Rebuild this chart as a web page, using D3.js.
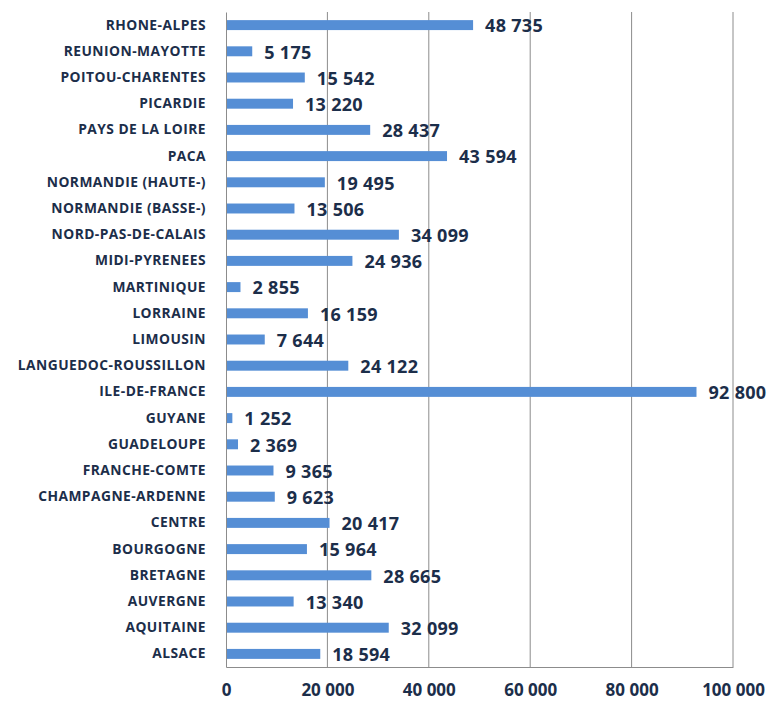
<!DOCTYPE html>
<html>
<head>
<meta charset="utf-8">
<script src="https://cdn.jsdelivr.net/npm/d3@7"></script>
<style>
  body { margin: 0; background: #fff; }
  svg { display: block; }
  text { font-family: "Open Sans", Lato, sans-serif; font-weight: bold; fill: #1c2e4a; }
</style>
</head>
<body>
<div id="chart-area"></div>
<script>
// Regions, top to bottom as drawn
const regions = [
    "RHONE-ALPES", "REUNION-MAYOTTE", "POITOU-CHARENTES", "PICARDIE", "PAYS DE LA LOIRE",
    "PACA", "NORMANDIE (HAUTE-)", "NORMANDIE (BASSE-)", "NORD-PAS-DE-CALAIS", "MIDI-PYRENEES",
    "MARTINIQUE", "LORRAINE", "LIMOUSIN", "LANGUEDOC-ROUSSILLON", "ILE-DE-FRANCE",
    "GUYANE", "GUADELOUPE", "FRANCHE-COMTE", "CHAMPAGNE-ARDENNE", "CENTRE",
    "BOURGOGNE", "BRETAGNE", "AUVERGNE", "AQUITAINE", "ALSACE"
];
const values = [
    48735, 5175, 15542, 13220, 28437,
    43594, 19495, 13506, 34099, 24936,
    2855, 16159, 7644, 24122, 92800,
    1252, 2369, 9365, 9623, 20417,
    15964, 28665, 13340, 32099, 18594
];
const xTicks = [0, 20000, 40000, 60000, 80000, 100000];

const data = regions.map((r, i) => ({ region: r, value: values[i] }));

const margin = { left: 226, right: 38, top: 12, bottom: 34 };
const width = 771 - margin.left - margin.right;
const height = 701 - margin.top - margin.bottom;

const fmt = v => d3.format(",")(v).replace(/,/g, " ");

const svg = d3.select("#chart-area")
    .append("svg")
    .attr("width", 771)
    .attr("height", 701)
    .append("g")
    .attr("transform", `translate(${margin.left}, ${margin.top})`);

const xScale = d3.scaleLinear().domain([0, 100000]).range([0, width]);
const yScale = d3.scaleBand().domain(regions).range([0, height]).paddingInner(0.62).paddingOuter(0.31);

// Gridlines
svg.append("g")
    .selectAll("line")
    .data(xTicks.slice(1))
    .enter().append("line")
    .attr("x1", d => xScale(d)).attr("x2", d => xScale(d))
    .attr("y1", 0).attr("y2", height)
    .attr("stroke", "#8c8c8c").attr("stroke-width", 1);

// Bars
svg.selectAll("rect.bar")
    .data(data)
    .enter().append("rect")
    .attr("class", "bar")
    .attr("x", 0)
    .attr("y", d => yScale(d.region))
    .attr("width", d => xScale(d.value))
    .attr("height", yScale.bandwidth())
    .attr("fill", "#558ed5");

// Value labels
svg.selectAll("text.val")
    .data(data)
    .enter().append("text")
    .attr("class", "val")
    .attr("x", d => xScale(d.value) + 12)
    .attr("y", d => yScale(d.region) + yScale.bandwidth() / 2 + 1)
    .attr("dy", "0.35em")
    .style("font-size", "18px")
    .style("letter-spacing", "0.3px")
    .text(d => fmt(d.value));

// Y axis
const yAxis = svg.append("g")
    .call(d3.axisLeft(yScale).tickSize(0).tickPadding(20));
yAxis.select(".domain").attr("stroke", "#8c8c8c");
yAxis.selectAll("text")
    .style("font-size", "13.8px")
    .style("letter-spacing", "0.45px")
    .attr("fill", "#1c2e4a");

// X axis
const xAxis = svg.append("g")
    .attr("transform", `translate(0, ${height})`)
    .call(d3.axisBottom(xScale).tickValues(xTicks).tickSize(0).tickPadding(17).tickFormat(fmt));
xAxis.select(".domain").attr("stroke", "#8c8c8c");
xAxis.selectAll("text").style("font-size", "17px").attr("fill", "#1c2e4a");
</script>
</body>
</html>
